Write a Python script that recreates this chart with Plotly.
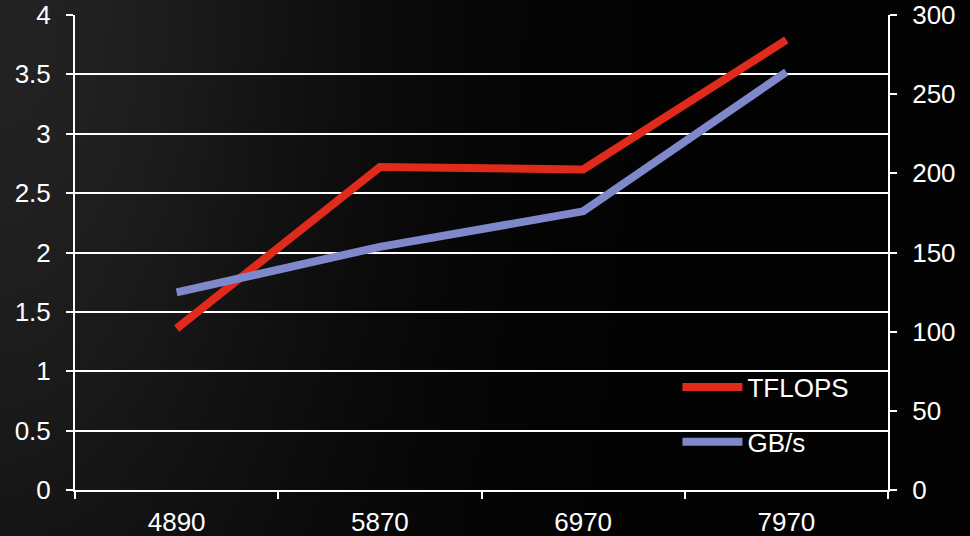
import base64
import struct
import zlib

import numpy as np
import plotly.graph_objects as go

# GPU generations and their peak figures
models = ["4890", "5870", "6970", "7970"]
tflops = [1.36, 2.72, 2.70, 3.79]
bandwidth_gbs = [124.8, 153.6, 176.0, 264.0]

left_ticks = [0, 0.5, 1, 1.5, 2, 2.5, 3, 3.5, 4]
left_tick_text = ["0", "0.5", "1", "1.5", "2", "2.5", "3", "3.5", "4"]
right_ticks = [0, 50, 100, 150, 200, 250, 300]

RED = "#e02a1b"
BLUE = "#8088cc"
FONT = "Liberation Sans, Arial, sans-serif"


def gradient_png(w, h):
    """Dark backdrop, lighter toward the upper left, encoded as a PNG data URI."""
    xs = np.linspace(0, 970, w)[None, :]
    ys = np.linspace(0, 536, h)[:, None]
    v = 3 + 32 * np.exp(-((xs / 340.0) ** 2 + (ys / 720.0) ** 2))
    img = np.clip(v, 0, 255).astype(np.uint8)
    rgb = np.repeat(img[:, :, None], 3, axis=2)
    raw = b"".join(b"\x00" + rgb[r].tobytes() for r in range(h))

    def chunk(tag, data):
        c = struct.pack(">I", len(data)) + tag + data
        return c + struct.pack(">I", zlib.crc32(tag + data) & 0xFFFFFFFF)

    png = b"\x89PNG\r\n\x1a\n"
    png += chunk(b"IHDR", struct.pack(">IIBBBBB", w, h, 8, 2, 0, 0, 0))
    png += chunk(b"IDAT", zlib.compress(raw, 9))
    png += chunk(b"IEND", b"")
    return "data:image/png;base64," + base64.b64encode(png).decode()


fig = go.Figure()
fig.add_trace(go.Scatter(
    x=models, y=tflops, name="TFLOPS", mode="lines",
    line=dict(color=RED, width=8), legendgroup="a", yaxis="y",
))
fig.add_trace(go.Scatter(
    x=models, y=bandwidth_gbs, name="GB/s", mode="lines",
    line=dict(color=BLUE, width=8), legendgroup="b", yaxis="y2",
))

axis_font = dict(family=FONT, size=26, color="white")

fig.update_layout(
    width=970, height=536,
    margin=dict(l=75, r=82, t=15, b=46),
    paper_bgcolor="#000000",
    plot_bgcolor="rgba(0,0,0,0)",
    font=axis_font,
    showlegend=True,
    legend=dict(
        x=0.741, y=0.159, xanchor="left", yanchor="middle",
        bgcolor="rgba(0,0,0,0)", font=axis_font,
        itemwidth=60, tracegroupgap=18,
    ),
    xaxis=dict(
        type="category", range=[-0.5, 3.5], automargin=False,
        showgrid=False, zeroline=False,
        showline=True, linecolor="white", linewidth=2,
        ticks="outside", tickson="boundaries", ticklen=7,
        tickcolor="white", tickwidth=2,
        ticklabelstandoff=8,
        tickfont=axis_font,
    ),
    yaxis=dict(
        range=[0, 4], tickvals=left_ticks, ticktext=left_tick_text,
        automargin=False,
        showgrid=True, gridcolor="white", gridwidth=2,
        zeroline=False,
        showline=True, linecolor="white", linewidth=2,
        ticks="outside", ticklen=7, tickcolor="white", tickwidth=2,
        ticklabelstandoff=10,
        tickfont=axis_font,
    ),
    yaxis2=dict(
        range=[0, 300], tickvals=right_ticks, automargin=False,
        overlaying="y", side="right",
        showgrid=False, zeroline=False,
        showline=True, linecolor="white", linewidth=2,
        ticks="outside", ticklen=7, tickcolor="white", tickwidth=2,
        ticklabelposition="outside", ticklabelstandoff=10,
        tickfont=axis_font,
    ),
    images=[dict(
        source=gradient_png(194, 108),
        xref="paper", yref="paper",
        x=-75 / 813, y=1 + 15 / 475,
        sizex=970 / 813, sizey=536 / 475,
        xanchor="left", yanchor="top",
        sizing="stretch", layer="below",
    )],
)

fig.write_html("out.html")
